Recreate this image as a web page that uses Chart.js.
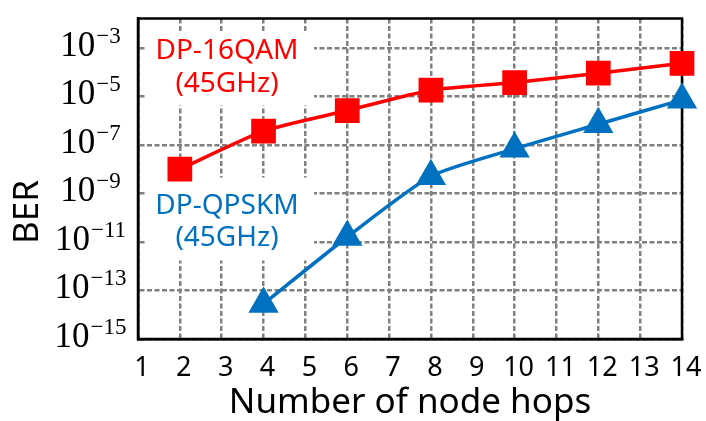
<!DOCTYPE html>
<html>
<head>
<meta charset="utf-8">
<script src="https://cdn.jsdelivr.net/npm/chart.js@4/dist/chart.umd.min.js"></script>
<style>
  html, body { margin: 0; padding: 0; background: #fff; }
  #wrap { width: 706px; height: 421px; }
</style>
</head>
<body>
<div id="wrap"><canvas id="berChart"></canvas></div>
<script>
// BER vs. number of node hops for both formats
const qam16Hops = [2, 4, 6, 8, 10, 12, 14];
const qam16Ber = [1.0e-8, 3.7e-7, 2.6e-6, 1.8e-5, 3.7e-5, 9.0e-5, 2.3e-4];
const qpskHops = [4, 6, 8, 10, 12, 14];
const qpskBer = [2.8e-14, 1.6e-11, 5.1e-9, 6.9e-8, 7.1e-7, 7.2e-6];

// axis ticks
const berExponents = [-15, -13, -11, -9, -7, -5, -3];
const hopMin = 1;
const hopMax = 14;

const RED = '#FF0000';
const BLUE = '#0070C0';
const GRID = '#808080';

// in-plot series labels (text lines)
const qam16Note = ['DP-16QAM', '(45GHz)'];
const qpskNote = ['DP-QPSKM', '(45GHz)'];

const notes = [
  { lines: qam16Note, color: RED, cx: 89, cy: [33, 66], box: [8, 14, 168, 73] },
  { lines: qpskNote, color: BLUE, cx: 89, cy: [188, 220], box: [8, 159, 168, 83] }
];

const toPoints = (xs, ys) => xs.map((x, i) => ({ x: x, y: ys[i] }));

// white note boxes, note text and the plot frame, under the data
const plotDecor = {
  id: 'plotDecor',
  beforeDatasetsDraw(chart) {
    const { ctx, chartArea: a } = chart;
    ctx.save();
    notes.forEach(n => {
      ctx.fillStyle = '#fff';
      ctx.fillRect(a.left + n.box[0], a.top + n.box[1], n.box[2], n.box[3]);
      ctx.fillStyle = n.color;
      ctx.font = '28px "Noto Sans"';
      ctx.textAlign = 'center';
      ctx.textBaseline = 'middle';
      n.lines.forEach((t, i) => ctx.fillText(t, a.left + n.cx, a.top + n.cy[i]));
    });
    ctx.strokeStyle = '#000';
    ctx.lineWidth = 2.5;
    ctx.strokeRect(a.left, a.top, a.right - a.left, a.bottom - a.top);
    ctx.restore();
  },
  afterDraw(chart) {
    const { ctx, chartArea: a, scales: { y } } = chart;
    ctx.save();
    ctx.fillStyle = '#000';
    ctx.textAlign = 'left';
    ctx.textBaseline = 'alphabetic';
    // 10^n tick labels on the log axis
    berExponents.forEach(e => {
      const py = y.getPixelForValue(Math.pow(10, e));
      const base = '10';
      const sup = '\u2212' + Math.abs(e);
      ctx.font = '35px "Liberation Serif"';
      const wb = ctx.measureText(base).width;
      ctx.font = '23px "Liberation Serif"';
      const ws = ctx.measureText(sup).width;
      const x0 = 90 - (wb + ws) / 2;
      ctx.font = '35px "Liberation Serif"';
      ctx.fillText(base, x0, py + 8);
      ctx.font = '23px "Liberation Serif"';
      ctx.fillText(sup, x0 + wb + 1, py - 5);
    });
    // axis titles
    ctx.font = '35px "Noto Sans"';
    ctx.textAlign = 'center';
    ctx.fillText('Number of node hops', (a.left + a.right) / 2, 413);
    ctx.translate(28, 212);
    ctx.rotate(-Math.PI / 2);
    ctx.textBaseline = 'middle';
    ctx.fillText('BER', 0, 0);
    ctx.restore();
  }
};

new Chart(document.getElementById('berChart'), {
  type: 'line',
  data: {
    datasets: [
      {
        label: 'DP-16QAM (45GHz)',
        data: toPoints(qam16Hops, qam16Ber),
        borderColor: RED,
        backgroundColor: RED,
        borderWidth: 3.5,
        pointStyle: 'rect',
        pointRadius: 15,
        pointHoverRadius: 15,
        tension: 0.2,
        clip: false
      },
      {
        label: 'DP-QPSKM (45GHz)',
        data: toPoints(qpskHops, qpskBer),
        borderColor: BLUE,
        backgroundColor: BLUE,
        borderWidth: 3.5,
        pointStyle: 'triangle',
        pointRadius: 14,
        pointHoverRadius: 14,
        tension: 0.2,
        clip: false
      }
    ]
  },
  options: {
    responsive: true,
    maintainAspectRatio: false,
    animation: false,
    events: [],
    layout: { padding: { top: 12, right: 24, left: 0, bottom: 0 } },
    plugins: {
      legend: { display: false },
      tooltip: { enabled: false }
    },
    scales: {
      x: {
        type: 'linear',
        min: hopMin,
        max: hopMax,
        ticks: {
          stepSize: 1,
          color: '#000',
          font: { family: '"Noto Sans"', size: 27 },
          padding: 13,
          labelOffset: 4
        },
        grid: { color: GRID, lineWidth: 2.5, drawTicks: false },
        border: { display: true, color: '#000', width: 2.5, dash: [5, 2.5] },
        afterFit(scale) {
          scale.height = 82;
          scale.paddingLeft = 0;
          scale.paddingRight = 0;
        }
      },
      y: {
        type: 'logarithmic',
        min: 1e-15,
        max: Math.pow(10, -1.79),
        afterBuildTicks(scale) {
          scale.ticks = berExponents.map(e => ({ value: Math.pow(10, e) }));
        },
        ticks: { display: false },
        grid: { color: GRID, lineWidth: 2.5, drawTicks: false },
        border: { display: true, color: '#000', width: 2.5, dash: [5, 2.5] },
        afterFit(scale) {
          scale.width = 138;
          scale.paddingTop = 0;
          scale.paddingBottom = 0;
        }
      }
    }
  },
  plugins: [plotDecor]
});
</script>
</body>
</html>
